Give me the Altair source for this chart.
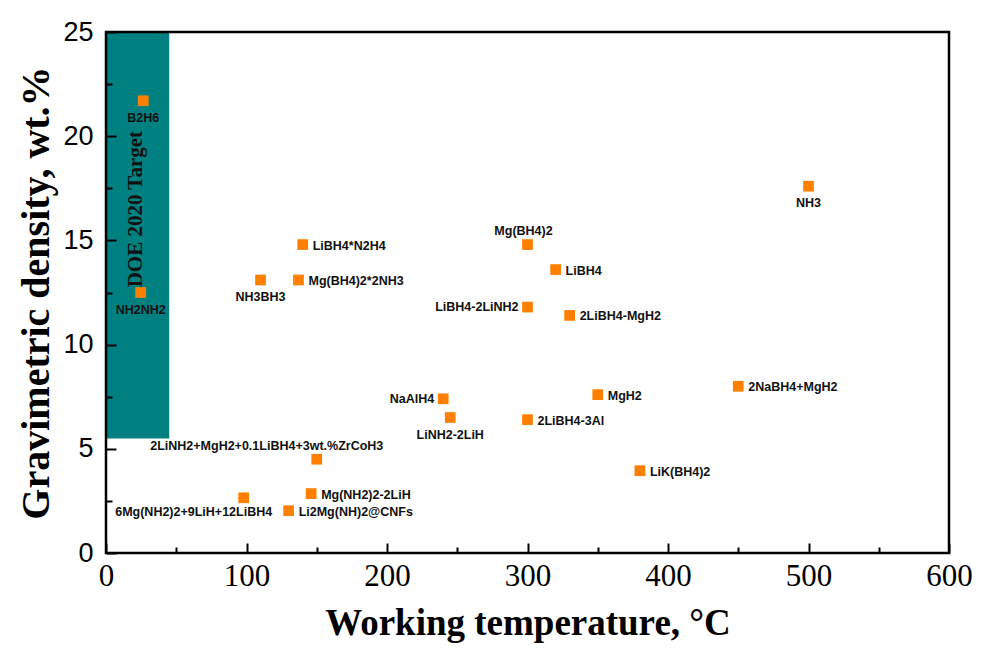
import altair as alt
import pandas as pd

names = [
    "B2H6", "NH2NH2", "NH3BH3", "Mg(BH4)2*2NH3", "LiBH4*N2H4", "Mg(BH4)2",
    "LiBH4", "LiBH4-2LiNH2", "2LiBH4-MgH2", "NH3", "2NaBH4+MgH2", "MgH2",
    "NaAlH4", "LiNH2-2LiH", "2LiBH4-3Al", "LiK(BH4)2",
    "2LiNH2+MgH2+0.1LiBH4+3wt.%ZrCoH3", "6Mg(NH2)2+9LiH+12LiBH4",
    "Mg(NH2)2-2LiH", "Li2Mg(NH)2@CNFs",
]
temps = [26.5, 24.7, 110, 137, 140, 300, 320, 300, 330, 500, 450, 350,
         240, 245, 300, 380, 150, 98, 146, 130]
densities = [21.7, 12.5, 13.1, 13.1, 14.8, 14.8, 13.6, 11.8, 11.4, 17.6, 8.0, 7.6,
             7.4, 6.5, 6.4, 3.95, 4.5, 2.65, 2.85, 2.03]
sides = ["below", "below", "below", "right", "right", "above",
         "right", "left", "right", "below", "right", "right",
         "left", "below", "right", "right",
         "above_left", "below_left", "right", "right"]

x_major = [0, 100, 200, 300, 400, 500, 600]
x_minor = [50, 150, 250, 350, 450, 550]
y_major = [0, 5, 10, 15, 20, 25]
y_minor = [2.5, 7.5, 12.5, 17.5, 22.5]

doe_target = 5.5
doe_range = [0, 45]

df = pd.DataFrame({"name": names, "x": temps, "y": densities, "side": sides})

W, H = 843, 521
xs = alt.Scale(domain=[0, 600], nice=False, zero=False)
ys = alt.Scale(domain=[0, 25], nice=False, zero=False)

common_axis = dict(domain=False, grid=False, tickColor="black", tickWidth=2,
                   zindex=1)

x_major_axis = alt.Axis(values=x_major, tickSize=10, offset=-10, orient="bottom",
                        labelFont="Liberation Serif", labelFontSize=31,
                        labelColor="black", labelPadding=8, labelFlush=False,
                        labelOverlap=False,
                        title="Working temperature, °C",
                        titleFont="Liberation Serif", titleFontSize=37,
                        titleFontWeight="bold", titleColor="black",
                        titlePadding=14, **common_axis)
x_minor_axis = alt.Axis(values=x_minor, tickSize=6, offset=-6, orient="bottom",
                        labels=False, title=None, **common_axis)
y_major_axis = alt.Axis(values=y_major, tickSize=10, offset=-10, orient="left",
                        labelFont="Liberation Sans", labelFontSize=27,
                        labelColor="black", labelPadding=13, labelFlush=False,
                        labelOverlap=False,
                        title="Gravimetric density, wt.%",
                        titleFont="Liberation Serif", titleFontSize=40,
                        titleFontWeight="bold", titleColor="black",
                        titlePadding=6, **common_axis)
y_minor_axis = alt.Axis(values=y_minor, tickSize=6, offset=-6, orient="left",
                        labels=False, title=None, **common_axis)

rect_df = pd.DataFrame({"x": [doe_range[0]], "x2": [doe_range[1]],
                        "y": [doe_target], "y2": [25]})
rect = alt.Chart(rect_df).mark_rect(color="#008080").encode(
    x=alt.X("x:Q", scale=xs, axis=x_minor_axis),
    x2="x2:Q",
    y=alt.Y("y:Q", scale=ys, axis=y_minor_axis),
    y2="y2:Q",
)

doe_df = pd.DataFrame({"x": [21], "y": [16.5], "t": ["DOE 2020 Target"]})
doe_text = alt.Chart(doe_df).mark_text(
    angle=270, font="Liberation Serif", fontSize=21, fontWeight="bold",
    color="#111111", align="center", baseline="middle"
).encode(
    x=alt.X("x:Q", scale=xs, axis=None),
    y=alt.Y("y:Q", scale=ys, axis=None),
    text="t:N",
)

points = alt.Chart(df).mark_square(size=115, color="#FF8000", opacity=1).encode(
    x=alt.X("x:Q", scale=xs, axis=x_major_axis),
    y=alt.Y("y:Q", scale=ys, axis=y_major_axis),
)

placements = {
    "right": dict(dx=10, dy=1, align="left"),
    "left": dict(dx=-9, dy=0, align="right"),
    "below": dict(dx=0, dy=17, align="center"),
    "above": dict(dx=-4, dy=-14, align="center"),
    "above_left": dict(dx=-50, dy=-13, align="center"),
    "below_left": dict(dx=-50, dy=14, align="center"),
}

text_layers = []
for side, opts in placements.items():
    text_layers.append(
        alt.Chart(df).transform_filter(alt.datum.side == side).mark_text(
            font="Liberation Sans", fontSize=12.5, fontWeight="bold",
            color="#111111", baseline="middle", **opts
        ).encode(
            x=alt.X("x:Q", scale=xs, axis=None),
            y=alt.Y("y:Q", scale=ys, axis=None),
            text="name:N",
        )
    )

frame = alt.Chart(pd.DataFrame({"a": [0]})).mark_rect(
    fillOpacity=0, stroke="black", strokeWidth=2.5
).encode(x=alt.value(0), x2=alt.value(W), y=alt.value(0), y2=alt.value(H))

chart = alt.layer(rect, doe_text, points, *text_layers, frame).resolve_axis(
    x="independent", y="independent"
).properties(
    width=W, height=H,
    autosize=alt.AutoSizeParams(type="none"),
    padding={"left": 98, "top": 24, "right": 25, "bottom": 92},
    background="white",
).configure_view(stroke=None)

chart.save("out.html", embed_options={"renderer": "svg", "actions": False})
